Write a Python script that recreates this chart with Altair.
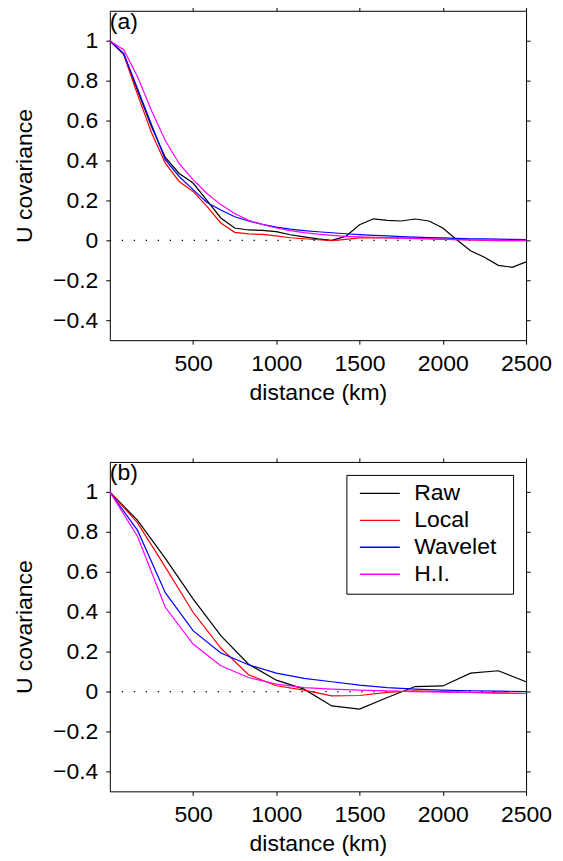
import altair as alt
import pandas as pd

SERIES = ["Raw", "Local", "Wavelet", "H.I."]
COLORS = ["#000000", "#ff0000", "#0000ff", "#ff00ff"]
X_TICKS = [500, 1000, 1500, 2000, 2500]
Y_TICKS = [-0.4, -0.2, 0, 0.2, 0.4, 0.6, 0.8, 1]
PANEL_LABELS = ["(a)", "(b)"]

# panel (a): 83 km spacing
dist_a = [0, 83.3, 166.7, 250, 333.3, 416.7, 500, 583.3, 666.7, 750, 833.3, 916.7,
          1000, 1083.3, 1166.7, 1250, 1333.3, 1416.7, 1500, 1583.3, 1666.7, 1750,
          1833.3, 1916.7, 2000, 2083.3, 2166.7, 2250, 2333.3, 2416.7, 2500]
raw_a = [1.0, 0.935, 0.75, 0.57, 0.415, 0.335, 0.287, 0.2, 0.112, 0.062, 0.052, 0.05,
         0.044, 0.028, 0.017, 0.007, 0.0, 0.02, 0.078, 0.108, 0.10, 0.097,
         0.107, 0.097, 0.062, 0.003, -0.052, -0.085, -0.125, -0.135, -0.108]
local_a = [1.0, 0.93, 0.73, 0.54, 0.387, 0.295, 0.245, 0.17, 0.087, 0.04, 0.032, 0.03,
           0.022, 0.013, 0.008, 0.003, -0.002, 0.005, 0.012, 0.013, 0.012, 0.011,
           0.01, 0.008, 0.006, 0.004, 0.002, 0.0, -0.001, -0.002, -0.002]
wavelet_a = [1.0, 0.935, 0.76, 0.58, 0.404, 0.32, 0.254, 0.19, 0.152, 0.118, 0.097, 0.08,
             0.066, 0.056, 0.049, 0.043, 0.038, 0.033, 0.029, 0.025, 0.022, 0.019,
             0.016, 0.014, 0.012, 0.01, 0.008, 0.007, 0.006, 0.005, 0.004]
hi_a = [1.0, 0.955, 0.82, 0.65, 0.5, 0.384, 0.304, 0.235, 0.179, 0.134, 0.1, 0.08,
        0.062, 0.049, 0.039, 0.031, 0.025, 0.02, 0.017, 0.015, 0.013, 0.011,
        0.009, 0.007, 0.005, 0.003, 0.002, 0.001, 0.0, 0.0, 0.0]

# panel (b): 167 km spacing
dist_b = [0, 166.7, 333.3, 500, 666.7, 833.3, 1000, 1166.7, 1333.3, 1500, 1666.7,
          1833.3, 2000, 2166.7, 2333.3, 2500]
raw_b = [1.0, 0.857, 0.667, 0.464, 0.28, 0.137, 0.057, 0.012, -0.072, -0.088, -0.03,
         0.025, 0.028, 0.092, 0.104, 0.049]
local_b = [1.0, 0.845, 0.623, 0.397, 0.218, 0.084, 0.029, 0.007, -0.022, -0.02, -0.004,
           0.004, 0.0, -0.004, -0.007, -0.01]
wavelet_b = [1.0, 0.807, 0.495, 0.305, 0.193, 0.134, 0.092, 0.066, 0.049, 0.032, 0.02,
             0.012, 0.007, 0.004, 0.002, 0.0]
hi_b = [1.0, 0.777, 0.422, 0.238, 0.129, 0.07, 0.037, 0.02, 0.012, 0.007, 0.003,
        0.0, -0.003, -0.005, -0.008, -0.01]

FONT = "Liberation Sans"
FS = 23
W, H = 417, 330


def panel(dist, values, label, show_legend):
    rows = []
    for k, (name, vals) in enumerate(zip(SERIES, values)):
        for d, v in zip(dist, vals):
            rows.append({"distance": d, "cov": v, "series": name, "k": k})
    df = pd.DataFrame(rows)
    xs = alt.Scale(domain=[0, 2500], nice=False, zero=False)
    ys = alt.Scale(domain=[-0.5, 1.15], nice=False, zero=False)
    if show_legend:
        leg = alt.Legend(
            title=None,
            orient="top-right", offset=13,
            strokeColor="black", fillColor="white", padding=7, cornerRadius=0,
            symbolType="M-4,0H4M24.6,0", symbolSize=100, symbolStrokeWidth=1.4,
            symbolOffset=15, labelOffset=23, labelFontSize=FS, labelFont=FONT,
            labelColor="black", rowPadding=3,
        )
    else:
        leg = None
    lines = alt.Chart(df).mark_line(strokeWidth=1.2).encode(
        x=alt.X("distance:Q", scale=xs,
                axis=alt.Axis(values=X_TICKS, format="d", title="distance (km)",
                              labelPadding=8, titlePadding=6, labelFlush=False)),
        y=alt.Y("cov:Q", scale=ys,
                axis=alt.Axis(values=Y_TICKS, title="U covariance",
                              labelExpr="replace(format(datum.value, '~g'), '-', '\u2212')",
                              labelPadding=8, titlePadding=16, labelFlush=False)),
        color=alt.Color("series:N", scale=alt.Scale(domain=SERIES, range=COLORS), legend=leg),
        order="k:O",
    )
    zero = alt.Chart(pd.DataFrame({"d": [0, 2500], "v": [0, 0]})).mark_line(
        color="black", strokeWidth=1.2, strokeDash=[1.3, 10.7]
    ).encode(
        x=alt.X("d:Q", scale=xs, axis=alt.Axis(orient="top", values=X_TICKS, labels=False, title=None)),
        y=alt.Y("v:Q", scale=ys, axis=alt.Axis(orient="right", values=Y_TICKS, labels=False, title=None)),
    )
    txt = alt.Chart(pd.DataFrame({"t": [label], "d": [0], "v": [1.15]})).mark_text(
        align="left", baseline="top", fontSize=FS, font=FONT, color="black", dx=0, dy=0
    ).encode(
        x=alt.X("d:Q", scale=xs, axis=None),
        y=alt.Y("v:Q", scale=ys, axis=None),
        text="t:N",
    )
    return alt.layer(zero, lines, txt).resolve_axis(x="independent", y="independent").properties(
        width=W, height=H
    )


top = panel(dist_a, [raw_a, local_a, wavelet_a, hi_a], PANEL_LABELS[0], False)
bottom = panel(dist_b, [raw_b, local_b, wavelet_b, hi_b], PANEL_LABELS[1], True)

chart = alt.vconcat(top, bottom, spacing=52).resolve_scale(color="independent").properties(
    padding={"left": 5, "top": -3, "right": 2, "bottom": 0}
).configure_view(stroke="black", strokeWidth=1).configure_axis(
    domain=False, grid=False, ticks=True, tickSize=4, tickColor="black", tickWidth=1,
    labelFont=FONT, labelFontSize=FS, labelColor="black",
    titleFont=FONT, titleFontSize=FS, titleFontWeight="normal", titleColor="black",
).configure_legend(labelFont=FONT)

chart.save("out.html", embed_options={"renderer": "svg", "actions": False})
